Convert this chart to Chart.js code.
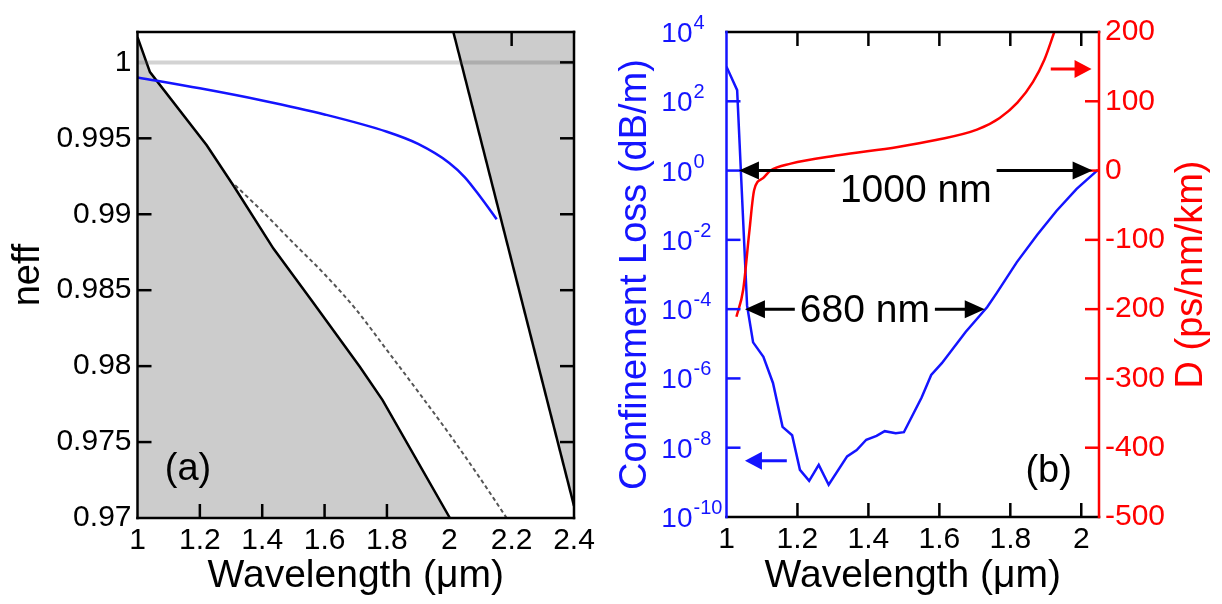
<!DOCTYPE html>
<html lang="en">
<head>
<meta charset="UTF-8">
<title>Effective index and confinement loss vs wavelength</title>
<script src="https://cdn.jsdelivr.net/npm/chart.js"></script>
<style>
    body { margin: 0; background: #fff; }
    .wrap { position: relative; width: 1222px; height: 604px; }
    #chartA { position: absolute; left: 0; top: 0; }
    #chartB { position: absolute; left: 600px; top: 0; }
</style>
</head>
<body>
<div class="wrap">
    <canvas id="chartA" width="600" height="604"></canvas>
    <canvas id="chartB" width="622" height="604"></canvas>
</div>
<script>
// ---------- panel (a): effective index ----------
const wlTicksA = [1, 1.2, 1.4, 1.6, 1.8, 2, 2.2, 2.4];
const wlLabelsA = ['1', '1.2', '1.4', '1.6', '1.8', '2', '2.2', '2.4'];
const neffTicks = [0.97, 0.975, 0.98, 0.985, 0.99, 0.995, 1];
const neffLabels = ['0.97', '0.975', '0.98', '0.985', '0.99', '0.995', '1'];

// guided mode (blue)
const modeWl   = [1.0, 1.2, 1.4, 1.6, 1.8, 1.9, 2.0, 2.05, 2.1, 2.152];
const modeNeff = [0.99901, 0.99829, 0.99749, 0.99657, 0.99543, 0.99463, 0.99338, 0.99243, 0.99113, 0.98967];
// lower band edge (black, grey below)
const lowEdgeWl   = [1.000, 1.040, 1.222, 1.307, 1.436, 1.558, 1.713, 1.786, 2.002];
const lowEdgeNeff = [1.00166, 0.99936, 0.99454, 0.99191, 0.98774, 0.98434, 0.97996, 0.97776, 0.97];
// upper band edge (black, grey above)
const highEdgeWl   = [2.013, 2.4];
const highEdgeNeff = [1.002, 0.9708];
// dashed grey curve
const dashWl   = [1.313, 1.4, 1.5, 1.6, 1.7, 1.8, 1.9, 2.0, 2.1, 2.184];
const dashNeff = [0.99191, 0.99020, 0.98811, 0.98605, 0.98375, 0.98105, 0.97832, 0.97553, 0.97258, 0.97];
// air line n = 1
const airWl   = [1, 2.4];
const airNeff = [1, 1];

const edgeTicksA = {
    top: [2.2],
    bottom: [1.2, 1.4, 1.6, 1.8],
    left: [0.975, 0.98, 0.985, 0.99, 0.995],
    right: [0.975, 0.98, 0.985, 0.99, 0.995, 1]
};

// ---------- panel (b): loss and dispersion ----------
const wlTicksB = [1, 1.2, 1.4, 1.6, 1.8, 2];
const wlLabelsB = ['1', '1.2', '1.4', '1.6', '1.8', '2'];
const lossTicks = [1e4, 1e2, 1e0, 1e-2, 1e-4, 1e-6, 1e-8, 1e-10];
const lossExps = ['4', '2', '0', '-2', '-4', '-6', '-8', '-10'];
const dispTicks = [200, 100, 0, -100, -200, -300, -400, -500];
const dispLabels = ['200', '100', '0', '-100', '-200', '-300', '-400', '-500'];

const lossWl = [1.000, 1.030, 1.058, 1.075, 1.104, 1.131, 1.158, 1.185, 1.207, 1.233, 1.260, 1.288,
                1.340, 1.367, 1.394, 1.423, 1.446, 1.477, 1.500, 1.550, 1.577, 1.607, 1.674, 1.735,
                1.762, 1.818, 1.876, 1.930, 1.987, 2.047];
const lossVal = [1e3, 2.1e2, 1.26e-4, 1.1e-5, 4.2e-6, 7.4e-7, 4.0e-8, 2.3e-8, 2.3e-9, 1.1e-9, 3.2e-9, 8.5e-10,
                 5.6e-9, 8.5e-9, 1.7e-8, 2.2e-8, 3.0e-8, 2.6e-8, 2.8e-8, 2.8e-7, 1.26e-6, 2.75e-6, 2.2e-5, 1.15e-4,
                 2.95e-4, 2.24e-3, 1.41e-2, 6.8e-2, 2.95e-1, 1.05];

const dispWl  = [1.028, 1.047, 1.064, 1.078, 1.103, 1.124, 1.181, 1.315, 1.483, 1.590, 1.706, 1.770, 1.820, 1.864, 1.896, 1.924];
const dispVal = [-211, -172, -90, -28, -11, 0, 10, 22, 34, 44, 59, 76, 98, 128, 160, 200];

const edgeTicksB = {
    top: [1.2, 1.4, 1.6, 1.8, 2],
    bottom: [1.2, 1.4, 1.6, 1.8, 2],
    left: [1e2, 1e0, 1e-2, 1e-4, 1e-6, 1e-8],
    right: [100, 0, -100, -200, -300, -400]
};

// span arrows in panel (b)
const spanLabels = ['1000 nm', '680 nm'];
const spanFrom = [1.035, 1.052];
const spanTo = [2.032, 1.728];
const spanAt = [1, 1e-4];

const FONT = "'Liberation Sans', Arial, sans-serif";
const BLUE = '#1414ff';
const RED = '#ff0000';
Chart.defaults.font.family = FONT;

const pts = (xs, ys) => xs.map((x, i) => ({ x: x, y: ys[i] }));

function seg(ctx, x1, y1, x2, y2, color) {
    ctx.strokeStyle = color;
    ctx.beginPath();
    ctx.moveTo(x1, y1);
    ctx.lineTo(x2, y2);
    ctx.stroke();
}

function head(ctx, tipX, tipY, dir, len, half, color) {
    ctx.fillStyle = color;
    ctx.beginPath();
    ctx.moveTo(tipX, tipY);
    ctx.lineTo(tipX - dir * len, tipY - half);
    ctx.lineTo(tipX - dir * len, tipY + half);
    ctx.closePath();
    ctx.fill();
}

// box round the plot area with inward ticks
const framePlugin = {
    id: 'frame',
    afterDatasetsDraw(chart, args, o) {
        const { ctx, chartArea: a } = chart;
        const sx = chart.scales.x, sl = chart.scales[o.yl], sr = chart.scales[o.yr];
        const L = 14;
        ctx.save();
        ctx.lineWidth = 2.5;
        o.ticks.top.forEach(v => { const x = sx.getPixelForValue(v); seg(ctx, x, a.top, x, a.top + L, o.colors.top); });
        o.ticks.bottom.forEach(v => { const x = sx.getPixelForValue(v); seg(ctx, x, a.bottom, x, a.bottom - L, o.colors.bottom); });
        o.ticks.left.forEach(v => { const y = sl.getPixelForValue(v); seg(ctx, a.left, y, a.left + L, y, o.colors.left); });
        o.ticks.right.forEach(v => { const y = sr.getPixelForValue(v); seg(ctx, a.right, y, a.right - L, y, o.colors.right); });
        seg(ctx, a.left - 1.25, a.top, a.right + 1.25, a.top, o.colors.top);
        seg(ctx, a.left - 1.25, a.bottom, a.right + 1.25, a.bottom, o.colors.bottom);
        seg(ctx, a.left, a.top - 1.25, a.left, a.bottom + 1.25, o.colors.left);
        seg(ctx, a.right, a.top - 1.25, a.right, a.bottom + 1.25, o.colors.right);

        // panel letter
        const ly = chart.scales[o.letterAxis];
        ctx.fillStyle = '#000';
        ctx.font = '38px ' + FONT;
        ctx.textAlign = 'center';
        ctx.textBaseline = 'middle';
        ctx.fillText(o.letter, sx.getPixelForValue(o.letterAt[0]), ly.getPixelForValue(o.letterAt[1]));
        ctx.restore();
    }
};

// annotations of panel (b)
const notesPlugin = {
    id: 'notes',
    afterDatasetsDraw(chart) {
        const { ctx, chartArea: a } = chart;
        const sx = chart.scales.x, yl = chart.scales.yL, yr = chart.scales.yR;
        const textDrop = [31, 13];
        ctx.save();
        ctx.lineWidth = 3;
        ctx.font = '39px ' + FONT;
        ctx.textAlign = 'center';
        ctx.textBaseline = 'alphabetic';
        spanLabels.forEach((t, i) => {
            const x0 = sx.getPixelForValue(spanFrom[i]);
            const x1 = sx.getPixelForValue(spanTo[i]);
            const y = yl.getPixelForValue(spanAt[i]);
            const xm = (x0 + x1) / 2;
            const w = ctx.measureText(t).width;
            seg(ctx, x0 + 18, y, xm - w / 2 - 5, y, '#000');
            seg(ctx, xm + w / 2 + 5, y, x1 - 18, y, '#000');
            head(ctx, x0, y, -1, 20, 9, '#000');
            head(ctx, x1, y, 1, 20, 9, '#000');
            ctx.fillStyle = '#000';
            ctx.fillText(t, xm, y + textDrop[i]);
        });
        // which-axis pointers
        let y = yl.getPixelForValue(4.2e-9);
        seg(ctx, sx.getPixelForValue(1.170), y, sx.getPixelForValue(1.052) + 15, y, BLUE);
        head(ctx, sx.getPixelForValue(1.052), y, -1, 17, 9, BLUE);
        y = yr.getPixelForValue(146.6);
        seg(ctx, sx.getPixelForValue(1.914), y, sx.getPixelForValue(2.029) - 15, y, RED);
        head(ctx, sx.getPixelForValue(2.029), y, 1, 17, 9, RED);

        // log tick labels 10^n
        ctx.fillStyle = BLUE;
        lossTicks.forEach((v, i) => {
            const ty = yl.getPixelForValue(v);
            ctx.font = '28px ' + FONT;
            ctx.textAlign = 'right';
            ctx.fillText('10', a.left - 34, ty + 10);
            ctx.font = '20px ' + FONT;
            ctx.textAlign = 'left';
            ctx.fillText(lossExps[i], a.left - 33, ty - 3);
        });

        // right axis title, reading upwards
        ctx.save();
        ctx.translate(592, (a.top + a.bottom) / 2);
        ctx.rotate(-Math.PI / 2);
        ctx.font = '38px ' + FONT;
        ctx.fillStyle = RED;
        ctx.textAlign = 'center';
        ctx.textBaseline = 'middle';
        ctx.fillText('D (ps/nm/km)', 0, 0);
        ctx.restore();
        ctx.restore();
    }
};

function wlAxis(max, ticks, labels, height) {
    return {
        type: 'linear', min: 1, max: max,
        grid: { display: false, drawTicks: false },
        border: { display: false },
        afterBuildTicks: s => { s.ticks = ticks.map(v => ({ value: v })); },
        afterFit: s => { s.height = height; s.paddingLeft = 0; s.paddingRight = 0; },
        ticks: { autoSkip: false, maxRotation: 0, minRotation: 0, padding: 5, color: '#000',
                 font: { size: 30 }, callback: (v, i) => labels[i] },
        title: { display: true, text: 'Wavelength (μm)', color: '#000', font: { size: 39 },
                 padding: { top: 0, bottom: 4 } }
    };
}

// ---------- chart (a) ----------
new Chart(document.getElementById('chartA'), {
    type: 'line',
    data: {
        datasets: [
            { data: pts(modeWl, modeNeff), borderColor: BLUE, borderWidth: 2.5,
              cubicInterpolationMode: 'monotone', fill: false },
            { data: pts(dashWl, dashNeff), borderColor: '#555', borderWidth: 2, borderDash: [4, 3],
              cubicInterpolationMode: 'monotone', fill: false },
            { data: pts(airWl, airNeff), borderColor: 'rgba(80,80,80,0.25)', borderWidth: 4, fill: false },
            { data: pts(lowEdgeWl, lowEdgeNeff), borderColor: '#000', borderWidth: 2.5,
              fill: 'start', backgroundColor: '#cccccc' },
            { data: pts(highEdgeWl, highEdgeNeff), borderColor: '#000', borderWidth: 2.5,
              fill: 'end', backgroundColor: '#cccccc' }
        ]
    },
    options: {
        animation: false, responsive: false, devicePixelRatio: 1,
        layout: { padding: { top: 32, right: 26, left: 0, bottom: 0 } },
        elements: { point: { radius: 0 }, line: { tension: 0 } },
        plugins: {
            legend: { display: false }, tooltip: { enabled: false },
            frame: { yl: 'y', yr: 'y', ticks: edgeTicksA,
                     colors: { top: '#000', bottom: '#000', left: '#000', right: '#000' },
                     letter: '(a)', letterAxis: 'y', letterAt: [1.162, 0.97316] }
        },
        scales: {
            x: wlAxis(2.4, wlTicksA, wlLabelsA, 86),
            y: {
                type: 'linear', min: 0.97, max: 1.002,
                grid: { display: false, drawTicks: false },
                border: { display: false },
                afterBuildTicks: s => { s.ticks = neffTicks.map(v => ({ value: v })); },
                afterFit: s => { s.width = 137.5; s.paddingTop = 0; s.paddingBottom = 0; },
                ticks: { autoSkip: false, padding: 6, color: '#000', font: { size: 30 },
                         callback: (v, i) => neffLabels[i] },
                title: { display: true, text: 'neff', color: '#000', font: { size: 38 },
                         padding: { top: 6, bottom: 0 } }
            }
        }
    },
    plugins: [framePlugin]
});

// ---------- chart (b) ----------
new Chart(document.getElementById('chartB'), {
    type: 'line',
    data: {
        datasets: [
            { data: pts(dispWl, dispVal), yAxisID: 'yR', borderColor: RED, borderWidth: 2.5,
              cubicInterpolationMode: 'monotone', fill: false },
            { data: pts(lossWl, lossVal), yAxisID: 'yL', borderColor: BLUE, borderWidth: 2.5, fill: false }
        ]
    },
    options: {
        animation: false, responsive: false, devicePixelRatio: 1,
        layout: { padding: { top: 32, right: 0, left: 0, bottom: 0 } },
        elements: { point: { radius: 0 }, line: { tension: 0 } },
        plugins: {
            legend: { display: false }, tooltip: { enabled: false },
            frame: { yl: 'yL', yr: 'yR', ticks: edgeTicksB,
                     colors: { top: '#000', bottom: '#000', left: BLUE, right: RED },
                     letter: '(b)', letterAxis: 'yR', letterAt: [1.908, -435] }
        },
        scales: {
            x: wlAxis(2.05, wlTicksB, wlLabelsB, 87),
            yL: {
                type: 'logarithmic', position: 'left', min: 1e-10, max: 1e4,
                grid: { display: false, drawTicks: false },
                border: { display: false },
                ticks: { display: false },
                afterFit: s => { s.width = 126.5; s.paddingTop = 0; s.paddingBottom = 0; },
                title: { display: true, text: 'Confinement Loss (dB/m)', color: BLUE, font: { size: 38 },
                         padding: { top: 13, bottom: 0 } }
            },
            yR: {
                type: 'linear', position: 'right', min: -500, max: 200,
                grid: { display: false, drawTicks: false },
                border: { display: false },
                afterBuildTicks: s => { s.ticks = dispTicks.map(v => ({ value: v })); },
                afterFit: s => { s.width = 123; s.paddingTop = 0; s.paddingBottom = 0; },
                ticks: { autoSkip: false, padding: 6, color: RED, font: { size: 30 },
                         callback: (v, i) => dispLabels[i] },
                title: { display: false }
            }
        }
    },
    plugins: [framePlugin, notesPlugin]
});
</script>
</body>
</html>
